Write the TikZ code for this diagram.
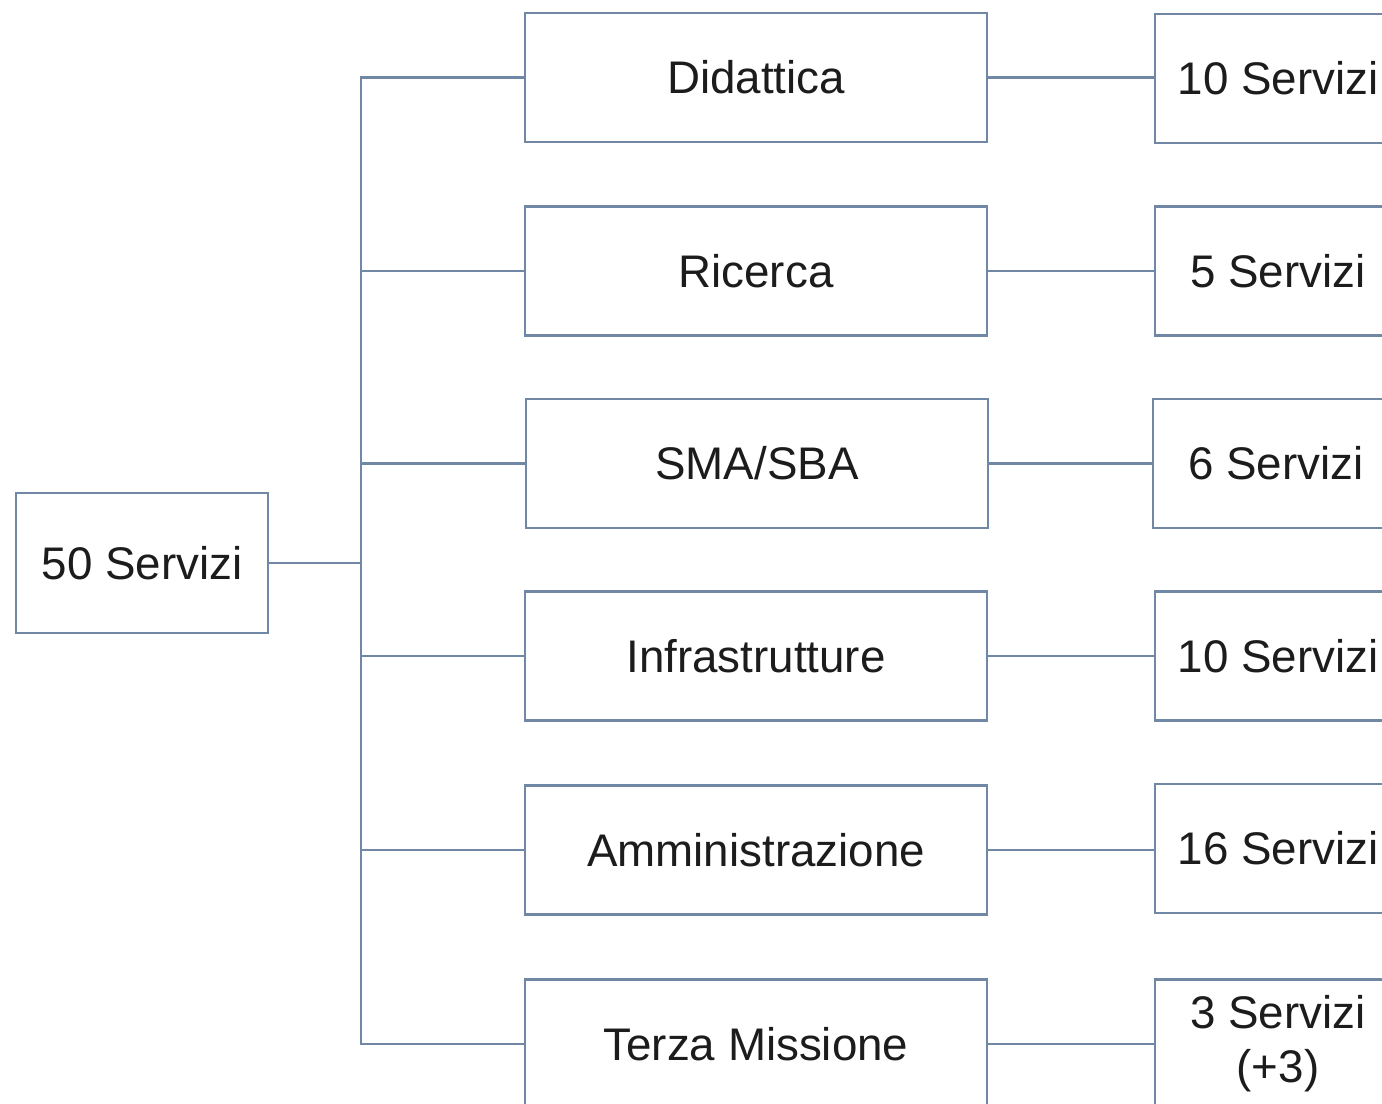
\documentclass[tikz,border=0pt]{standalone}
\usepackage{fontspec}
\setmainfont{Liberation Sans}
\definecolor{linea}{RGB}{112, 136, 166}
\definecolor{testo}{RGB}{28, 28, 28}

\begin{document}
\begin{tikzpicture}[
        x=0.01cm, y=-0.01cm,
        every node/.style={font=\fontsize{13}{15.3}\selectfont, text=testo, align=center},
        box/.style={draw=linea, line width=0.7pt, fill=white, inner sep=0pt, minimum width=4.62cm, minimum height=1.29cm},
        rootbox/.style={box, minimum width=2.52cm, minimum height=1.40cm},
        countbox/.style={box, minimum width=2.46cm},
        link/.style={draw=linea, line width=0.7pt}
    ]
        \useasboundingbox (0,0) rectangle (1382,1103);
        \clip (0,0) rectangle (1382,1103);

        % Radice
        \node[rootbox] (tot) at (142,563) {50 Servizi};
        \coordinate (tronco) at (361,563);

        % Aree
        \node[box] (did) at (756,77.5)  {Didattica};
        \node[box] (ric) at (756,271)   {Ricerca};
        \node[box] (sma) at (757,463.5) {SMA/SBA};
        \node[box] (inf) at (756,656)   {Infrastrutture};
        \node[box] (amm) at (756,850)   {Amministrazione};
        \node[box] (ter) at (756,1044)  {Terza Missione};

        % Numero di servizi per area
        \node[countbox] (n1) at (1278,78.5)  {10 Servizi};
        \node[countbox] (n2) at (1278,271)   {5 Servizi};
        \node[countbox] (n3) at (1276,463.5) {6 Servizi};
        \node[countbox] (n4) at (1278,656)   {10 Servizi};
        \node[countbox] (n5) at (1278,848.5) {16 Servizi};
        \node[countbox] (n6) at (1278,1044)  {3 Servizi\\(+3)};

        \draw[link] (tot) -- (tronco);
        \foreach \n in {did,ric,sma,inf,amm,ter}
            \draw[link] (tronco) |- (\n.west);
        \foreach \a/\b in {did/n1,ric/n2,sma/n3,inf/n4,amm/n5,ter/n6}
            \draw[link] (\a.east) -- (\a.east -| \b.west);
    \end{tikzpicture}
\end{document}
